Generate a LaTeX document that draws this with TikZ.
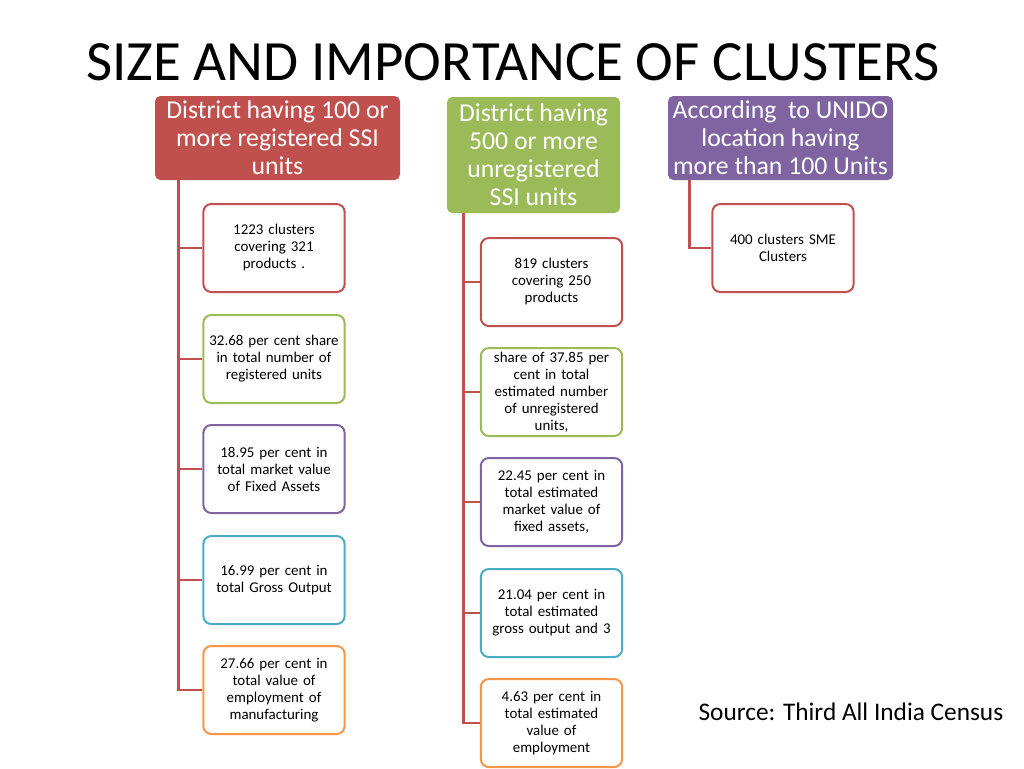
\documentclass[tikz,border=0pt]{standalone}
\usepackage{fontspec}
\setmainfont{Carlito}
\usepackage{tikz}

\definecolor{clred}{HTML}{C0504D}
\definecolor{clgreen}{HTML}{9BBB59}
\definecolor{clpurple}{HTML}{8064A2}
\definecolor{clcyan}{HTML}{4BACC6}
\definecolor{clorange}{HTML}{F79646}

\begin{document}
\begin{tikzpicture}[x=0.75pt,y=-0.75pt]
		% Define box and connector styles
		\tikzset{head/.style={fill=#1, text=white, rounded corners=4pt, inner sep=0pt, align=center, font=\fontsize{19.3}{21}\selectfont},
			fact/.style={draw=#1, fill=white, line width=1.5pt, rounded corners=6pt, minimum width=106pt, minimum height=66pt, text width=104pt, inner sep=0pt, align=center, font=\fontsize{11.2}{12.75}\selectfont},
			link/.style={draw=clred, line width=2.2pt}}
		
		\useasboundingbox (0,0) rectangle (1024,768);
		
		% Title
		\node (title) at (513,62) {\fontsize{42.7}{48}\selectfont SIZE AND IMPORTANCE OF CLUSTERS};
		
		% Column headers
		\node[head=clred, minimum width=183.75pt, minimum height=63pt] (hdreg) at (277.5,138) {District having 100 or\\more registered SSI\\units};
		\node[head=clgreen, minimum width=129.75pt, minimum height=87pt] (hdunreg) at (533.5,155) {District having\\500 or more\\unregistered\\SSI units};
		\node[head=clpurple, minimum width=168.75pt, minimum height=63pt] (hdunido) at (780.5,138) {According~ to UNIDO\\location having\\more than 100 Units};
		
		% Left column
		\node[fact=clred] (reg1) at (274,248) {1223 clusters\\covering 321\\products .};
		\node[fact=clgreen] (reg2) at (274,359) {32.68 per cent share\\in total number of\\registered units};
		\node[fact=clpurple] (reg3) at (274,469) {18.95 per cent in\\total market value\\of Fixed Assets};
		\node[fact=clcyan] (reg4) at (274,580) {16.99 per cent in\\total Gross Output};
		\node[fact=clorange] (reg5) at (274,690) {27.66 per cent in\\total value of\\employment of\\manufacturing};
		
		% Middle column
		\node[fact=clred] (unreg1) at (551.5,282) {819 clusters\\covering 250\\products};
		\node[fact=clgreen] (unreg2) at (551.5,392) {share of 37.85 per\\cent in total\\estimated number\\of unregistered\\units,};
		\node[fact=clpurple] (unreg3) at (551.5,502) {22.45 per cent in\\total estimated\\market value of\\fixed assets,};
		\node[fact=clcyan] (unreg4) at (551.5,613) {21.04 per cent in\\total estimated\\gross output and 3};
		\node[fact=clorange] (unreg5) at (551.5,723) {4.63 per cent in\\total estimated\\value of\\employment};
		
		% Right column
		\node[fact=clred] (unido1) at (783,248) {400 clusters SME\\Clusters};
		
		% Connectors
		\coordinate (treg) at ([xshift=18pt]hdreg.south west);
		\coordinate (tunreg) at ([xshift=12.75pt]hdunreg.south west);
		\coordinate (tunido) at ([xshift=16.5pt]hdunido.south west);
		\draw[link] (treg) |- (reg5.west);
		\foreach \i in {1,...,4}
			\draw[link] (reg\i.west -| treg) -- (reg\i.west);
		\draw[link] (tunreg) |- (unreg5.west);
		\foreach \i in {1,...,4}
			\draw[link] (unreg\i.west -| tunreg) -- (unreg\i.west);
		\draw[link] (tunido) |- (unido1.west);
		
		% Source note
		\node[anchor=east] (source) at (1008,712) {\fontsize{19}{22}\selectfont Source: Third All India Census};
	\end{tikzpicture}
\end{document}
